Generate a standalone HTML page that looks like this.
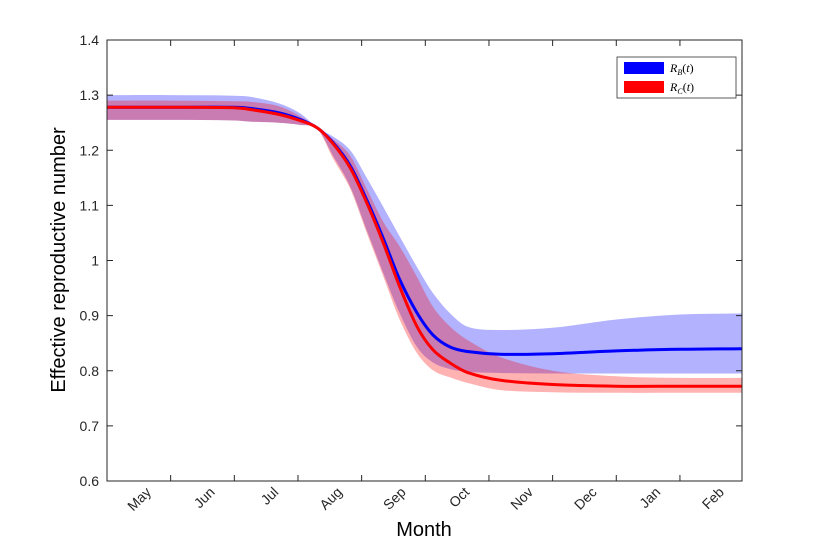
<!DOCTYPE html>
<html><head><meta charset="utf-8"><style>
body{margin:0;background:#fff}
svg{display:block;font-family:"Liberation Sans",Arial,sans-serif}
</style></head><body>
<svg id="chart" width="820" height="540">
<rect width="820" height="540" fill="#fff"/>
<g id="bands"></g><g id="lines"></g><g id="axes"></g>
<g>
<rect x="617" y="57" width="119" height="41" fill="#fff" stroke="#333" stroke-width="0.8"/>
<rect x="624" y="62" width="40" height="12" fill="#0000ff"/>
<text x="670" y="72" font-family="Liberation Serif,serif" font-style="italic" font-size="12">R<tspan font-size="8" dy="3">B</tspan><tspan dy="-3" font-style="normal">(</tspan>t<tspan font-style="normal">)</tspan></text>
<rect x="624" y="81" width="40" height="12" fill="#ff0000"/>
<text x="670" y="91" font-family="Liberation Serif,serif" font-style="italic" font-size="12">R<tspan font-size="8" dy="3">C</tspan><tspan dy="-3" font-style="normal">(</tspan>t<tspan font-style="normal">)</tspan></text>
</g>
</svg>
<script>
const months = ["May","Jun","Jul","Aug","Sep","Oct","Nov","Dec","Jan","Feb"];
const tPts = [0,1,2,2.25,2.7,3.03,3.31,3.55,3.82,4.08,4.34,4.6,4.87,5.12,5.39,5.66,6.17,7,8,9,9.97];
const redMid  = [1.278,1.278,1.277,1.274,1.265,1.254,1.240,1.212,1.168,1.105,1.032,0.952,0.880,0.838,0.814,0.797,0.783,0.775,0.772,0.772,0.772];
const blueMid = [1.278,1.278,1.278,1.276,1.268,1.256,1.240,1.214,1.172,1.110,1.040,0.965,0.905,0.865,0.843,0.835,0.830,0.831,0.836,0.839,0.840];
const blueUp  = [1.300,1.300,1.299,1.297,1.285,1.267,1.240,1.225,1.200,1.150,1.097,1.043,0.988,0.941,0.904,0.880,0.874,0.878,0.893,0.902,0.904];
const blueLo  = [1.255,1.255,1.254,1.252,1.250,1.246,1.238,1.190,1.134,1.055,0.977,0.904,0.843,0.815,0.803,0.798,0.796,0.795,0.795,0.795,0.795];
const redUp   = [1.290,1.290,1.289,1.288,1.280,1.262,1.240,1.220,1.190,1.130,1.070,1.025,0.970,0.916,0.880,0.856,0.825,0.800,0.790,0.787,0.787];
const redLo   = [1.255,1.255,1.254,1.252,1.250,1.246,1.238,1.185,1.130,1.050,0.971,0.892,0.832,0.801,0.788,0.778,0.765,0.761,0.760,0.760,0.760];
const yTicks = [0.6,0.7,0.8,0.9,1,1.1,1.2,1.3,1.4];
const X0=107,X1=742,Y0=481,Y1=40;
const xs=t=>X0+t*63.66;
const ys=v=>Y0-(v-0.6)/0.8*(Y0-Y1);
const NS="http://www.w3.org/2000/svg";
function el(tag,attrs,parent){const e=document.createElementNS(NS,tag);for(const k in attrs)e.setAttribute(k,attrs[k]);parent.appendChild(e);return e;}
function pts(arr){return tPts.map((t,i)=>[xs(t),ys(arr[i])]);}
function smooth(p,move){let d=(move?"M":"L")+p[0][0].toFixed(1)+","+p[0][1].toFixed(1);
 for(let i=0;i<p.length-1;i++){const a=p[Math.max(i-1,0)],b=p[i],c=p[i+1],e=p[Math.min(i+2,p.length-1)];
  const h=c[0]-b[0];
  const s1=(c[1]-a[1])/(c[0]-a[0]||1), s2=(e[1]-b[1])/(e[0]-b[0]||1);
  const c1=[b[0]+h/3,b[1]+s1*h/3],c2=[c[0]-h/3,c[1]-s2*h/3];
  d+=" C"+c1.map(v=>v.toFixed(1))+" "+c2.map(v=>v.toFixed(1))+" "+c[0].toFixed(1)+","+c[1].toFixed(1);}
 return d;}
function band(up,lo){return smooth(pts(up),true)+" "+smooth(pts(lo).reverse(),false)+"Z";}
const bands=document.getElementById('bands'),lines=document.getElementById('lines'),axes=document.getElementById('axes');
let b=el('path',{d:band(blueUp,blueLo),fill:"#0000ff","fill-opacity":0.3},bands);


let r=el('path',{d:band(redUp,redLo),fill:"#ff0000","fill-opacity":0.3},bands);


let bl=el('path',{d:smooth(pts(blueMid),true),fill:"none",stroke:"#0000ff","stroke-width":3},lines);


let rl=el('path',{d:smooth(pts(redMid),true),fill:"none",stroke:"#ff0000","stroke-width":3},lines);


let frame=el('rect',{x:X0,y:Y1,width:X1-X0,height:Y0-Y1,fill:"none",stroke:"#262626","stroke-width":1},axes);


yTicks.forEach(v=>{const y=ys(v);
 el('line',{x1:X0,x2:X0+6,y1:y,y2:y,stroke:"#262626"},axes);
 el('line',{x1:X1,x2:X1-6,y1:y,y2:y,stroke:"#262626"},axes);
 const t=el('text',{x:X0-8,y:y+5,"text-anchor":"end","font-size":14,fill:"#262626"},axes);
 t.textContent=String(v);
 
 });
for(let i=1;i<10;i++){const x=xs(i);
 el('line',{x1:x,x2:x,y1:Y0,y2:Y0-6,stroke:"#262626"},axes);
 el('line',{x1:x,x2:x,y1:Y1,y2:Y1+6,stroke:"#262626"},axes);}
months.forEach((m,i)=>{const x=xs(i)+45,y=493;
 const t=el('text',{x:x,y:y,"text-anchor":"end","font-size":14,fill:"#262626",transform:`rotate(-45 ${x} ${y})`},axes);
 t.textContent=m;
 
 });
const xt=el('text',{x:424,y:536,"text-anchor":"middle","font-size":20,fill:"#000"},axes);
xt.textContent="Month";


const yt=el('text',{x:0,y:0,"text-anchor":"middle","font-size":20,fill:"#000",transform:"translate(65 260) rotate(-90)"},axes);
yt.textContent="Effective reproductive number";


</script>
</body></html>
